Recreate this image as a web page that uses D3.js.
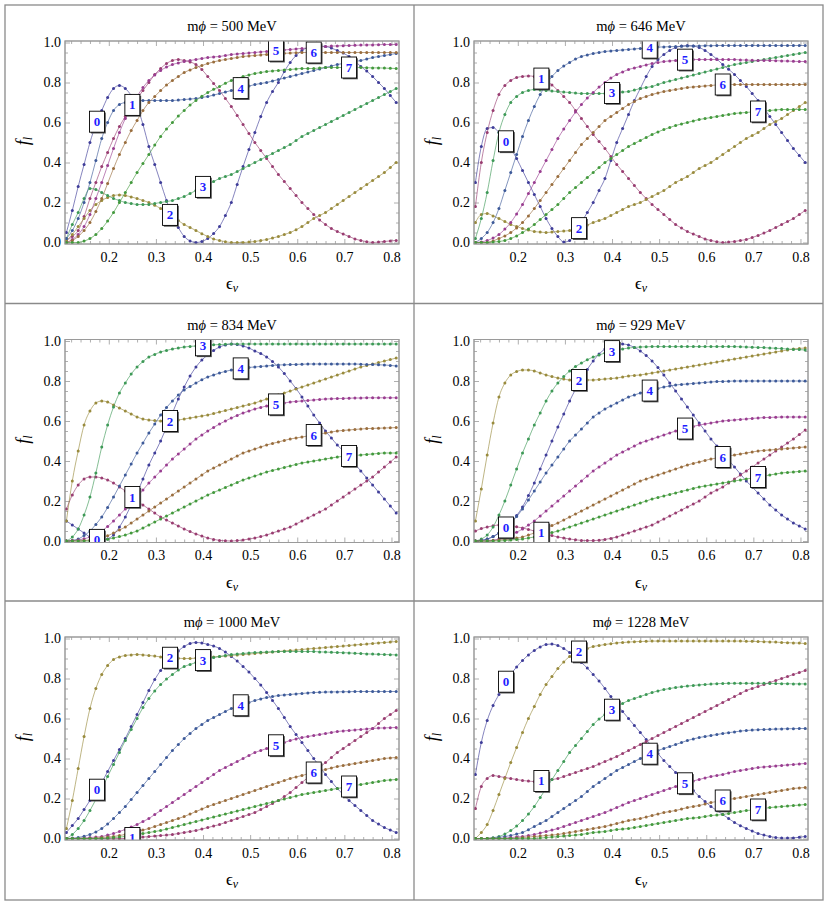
<!DOCTYPE html>
<html>
<head>
<meta charset="utf-8">
<script src="https://cdn.jsdelivr.net/npm/d3@7"></script>
<style>
    body { margin: 0; background: #fff; }
    svg { display: block; }
    svg text { font-family: "Liberation Serif", "Times New Roman", serif; }
</style>
</head>
<body>
<svg id="chart" width="830" height="906"></svg>
<script>
// sample points in eps_nu
const epsGrid = [0.11, 0.1225, 0.135, 0.1475, 0.16, 0.1725, 0.185, 0.1975, 0.21, 0.2225, 0.235, 0.2475, 0.26, 0.2725,
    0.285, 0.2975, 0.31, 0.3225, 0.335, 0.3475, 0.36, 0.3725, 0.385, 0.3975, 0.41, 0.4225, 0.435, 0.4475, 0.46, 0.4725,
    0.485, 0.4975, 0.51, 0.5225, 0.535, 0.5475, 0.56, 0.5725, 0.585, 0.5975, 0.61, 0.6225, 0.635, 0.6475, 0.66, 0.6725,
    0.685, 0.6975, 0.71, 0.7225, 0.735, 0.7475, 0.76, 0.7725, 0.785, 0.7975, 0.81];

const masses = [500, 646, 834, 929, 1000, 1228];

// f_l for l = 0..7, one array per mass
const f500 = [
    [0.05,0.16,0.28,0.39,0.5,0.59,0.66,0.725,0.77,0.785,0.77,0.735,0.68,0.59,0.48,0.39,0.3,0.21,0.13,0.075,0.03,0.008,0.0,0.005,0.02,0.045,0.08,0.135,0.2,0.29,0.38,0.465,0.55,0.63,0.7,0.755,0.8,0.855,0.9,0.935,0.96,0.975,0.98,0.982,0.98,0.972,0.96,0.947,0.93,0.907,0.88,0.857,0.83,0.8,0.77,0.735,0.70],
    [0.01,0.03,0.06,0.13,0.22,0.3,0.38,0.45,0.52,0.58,0.63,0.68,0.72,0.76,0.8,0.84,0.87,0.895,0.91,0.915,0.91,0.903,0.89,0.865,0.83,0.795,0.76,0.72,0.68,0.635,0.59,0.545,0.5,0.46,0.42,0.38,0.34,0.305,0.27,0.235,0.2,0.17,0.14,0.113,0.09,0.07,0.055,0.042,0.03,0.018,0.01,0.004,0.0,0.002,0.005,0.008,0.01],
    [0.01,0.04,0.08,0.12,0.16,0.19,0.21,0.225,0.235,0.238,0.235,0.228,0.22,0.21,0.2,0.186,0.17,0.15,0.13,0.11,0.09,0.075,0.06,0.044,0.03,0.018,0.01,0.004,0.0,0.0,0.0,0.002,0.005,0.01,0.015,0.022,0.03,0.04,0.05,0.064,0.08,0.1,0.12,0.135,0.15,0.17,0.19,0.21,0.23,0.25,0.27,0.29,0.31,0.33,0.35,0.375,0.4],
    [0.02,0.09,0.15,0.22,0.27,0.265,0.25,0.235,0.22,0.21,0.2,0.195,0.19,0.19,0.19,0.195,0.2,0.205,0.21,0.22,0.23,0.245,0.26,0.275,0.29,0.305,0.32,0.33,0.34,0.355,0.37,0.385,0.4,0.415,0.43,0.445,0.46,0.475,0.49,0.51,0.53,0.545,0.56,0.575,0.59,0.605,0.62,0.635,0.65,0.665,0.68,0.695,0.71,0.725,0.74,0.755,0.77],
    [0.02,0.06,0.12,0.2,0.3,0.41,0.52,0.6,0.66,0.69,0.7,0.707,0.71,0.71,0.71,0.71,0.71,0.71,0.71,0.712,0.715,0.717,0.72,0.725,0.73,0.737,0.745,0.752,0.76,0.767,0.775,0.782,0.79,0.795,0.8,0.807,0.815,0.822,0.83,0.837,0.845,0.852,0.86,0.867,0.875,0.882,0.89,0.895,0.9,0.905,0.91,0.917,0.925,0.93,0.935,0.94,0.945],
    [0.0,0.015,0.04,0.08,0.14,0.22,0.3,0.385,0.47,0.55,0.62,0.68,0.73,0.775,0.81,0.838,0.86,0.877,0.89,0.898,0.905,0.91,0.915,0.92,0.925,0.928,0.93,0.935,0.94,0.943,0.945,0.948,0.95,0.953,0.955,0.958,0.96,0.963,0.965,0.968,0.97,0.973,0.975,0.978,0.98,0.982,0.983,0.984,0.985,0.986,0.987,0.988,0.988,0.989,0.99,0.99,0.99],
    [0.0,0.01,0.03,0.06,0.1,0.155,0.22,0.295,0.37,0.44,0.5,0.56,0.61,0.66,0.7,0.73,0.76,0.787,0.81,0.83,0.85,0.863,0.875,0.885,0.895,0.903,0.91,0.915,0.92,0.925,0.93,0.933,0.935,0.938,0.94,0.943,0.945,0.946,0.947,0.949,0.95,0.95,0.95,0.95,0.95,0.95,0.95,0.95,0.95,0.95,0.95,0.95,0.95,0.95,0.95,0.95,0.95],
    [0.0,0.0,0.0,0.007,0.02,0.04,0.07,0.107,0.15,0.2,0.25,0.3,0.35,0.395,0.44,0.487,0.53,0.567,0.6,0.632,0.66,0.687,0.71,0.731,0.75,0.766,0.78,0.796,0.81,0.82,0.83,0.838,0.845,0.85,0.855,0.858,0.86,0.863,0.865,0.868,0.87,0.87,0.87,0.873,0.875,0.875,0.875,0.875,0.875,0.875,0.875,0.874,0.873,0.873,0.872,0.871,0.87]
];
const f646 = [
    [0.3,0.48,0.57,0.575,0.55,0.515,0.47,0.42,0.36,0.3,0.24,0.18,0.12,0.07,0.03,0.002,0.01,0.045,0.1,0.15,0.2,0.26,0.32,0.41,0.5,0.57,0.64,0.71,0.77,0.83,0.88,0.915,0.94,0.96,0.975,0.982,0.985,0.982,0.975,0.96,0.94,0.917,0.89,0.866,0.84,0.81,0.78,0.745,0.71,0.67,0.63,0.59,0.55,0.51,0.47,0.435,0.4],
    [0.18,0.4,0.55,0.66,0.74,0.785,0.81,0.825,0.83,0.833,0.83,0.822,0.81,0.788,0.76,0.73,0.7,0.66,0.62,0.58,0.54,0.505,0.47,0.43,0.39,0.355,0.32,0.285,0.25,0.22,0.19,0.165,0.14,0.115,0.09,0.072,0.055,0.042,0.03,0.018,0.01,0.004,0.0,0.002,0.005,0.01,0.015,0.025,0.035,0.047,0.06,0.075,0.09,0.105,0.12,0.14,0.16],
    [0.1,0.14,0.145,0.133,0.12,0.105,0.09,0.08,0.07,0.062,0.055,0.052,0.05,0.052,0.055,0.057,0.06,0.067,0.075,0.087,0.1,0.11,0.12,0.135,0.15,0.165,0.18,0.19,0.2,0.215,0.23,0.245,0.26,0.28,0.3,0.315,0.33,0.35,0.37,0.385,0.4,0.42,0.44,0.46,0.48,0.5,0.52,0.535,0.55,0.57,0.59,0.605,0.62,0.64,0.66,0.68,0.7],
    [0.02,0.12,0.25,0.41,0.55,0.64,0.7,0.73,0.75,0.76,0.765,0.763,0.76,0.757,0.755,0.752,0.75,0.747,0.745,0.745,0.745,0.745,0.745,0.747,0.75,0.752,0.755,0.762,0.77,0.775,0.78,0.79,0.8,0.807,0.815,0.822,0.83,0.837,0.845,0.852,0.86,0.867,0.875,0.882,0.89,0.895,0.9,0.905,0.91,0.915,0.92,0.925,0.93,0.935,0.94,0.945,0.95],
    [0.0,0.02,0.05,0.1,0.17,0.26,0.35,0.44,0.53,0.61,0.68,0.74,0.79,0.83,0.86,0.882,0.9,0.917,0.93,0.938,0.945,0.95,0.955,0.958,0.96,0.963,0.965,0.968,0.97,0.973,0.975,0.977,0.978,0.979,0.98,0.981,0.982,0.983,0.983,0.984,0.984,0.985,0.985,0.985,0.985,0.985,0.985,0.985,0.985,0.985,0.985,0.985,0.985,0.985,0.985,0.985,0.985],
    [0.0,0.003,0.01,0.022,0.04,0.067,0.1,0.143,0.19,0.245,0.3,0.355,0.41,0.465,0.52,0.567,0.61,0.652,0.69,0.722,0.75,0.777,0.8,0.822,0.84,0.853,0.865,0.873,0.88,0.888,0.895,0.9,0.905,0.908,0.91,0.913,0.915,0.915,0.915,0.915,0.915,0.915,0.915,0.915,0.915,0.913,0.912,0.911,0.91,0.91,0.91,0.909,0.908,0.907,0.906,0.905,0.905],
    [0.0,0.0,0.0,0.008,0.02,0.033,0.05,0.073,0.1,0.133,0.17,0.21,0.25,0.29,0.33,0.37,0.41,0.45,0.49,0.52,0.55,0.58,0.61,0.63,0.65,0.67,0.69,0.705,0.72,0.73,0.74,0.748,0.755,0.76,0.765,0.77,0.775,0.778,0.78,0.783,0.785,0.788,0.79,0.79,0.79,0.79,0.79,0.79,0.79,0.79,0.79,0.79,0.79,0.79,0.79,0.79,0.79],
    [0.0,0.0,0.0,0.002,0.005,0.01,0.02,0.033,0.05,0.068,0.09,0.115,0.14,0.165,0.19,0.22,0.25,0.275,0.3,0.325,0.35,0.375,0.4,0.42,0.44,0.46,0.48,0.495,0.51,0.525,0.54,0.553,0.565,0.575,0.585,0.593,0.6,0.608,0.615,0.62,0.625,0.63,0.635,0.64,0.645,0.648,0.65,0.653,0.655,0.658,0.66,0.663,0.665,0.665,0.665,0.665,0.665]
];
const f834 = [
    [0.1,0.08,0.06,0.04,0.02,0.007,0.0,0.01,0.03,0.07,0.12,0.18,0.24,0.31,0.38,0.44,0.5,0.57,0.64,0.71,0.77,0.825,0.87,0.905,0.93,0.953,0.97,0.98,0.985,0.982,0.975,0.965,0.95,0.937,0.92,0.897,0.87,0.837,0.8,0.762,0.72,0.675,0.63,0.59,0.55,0.515,0.48,0.45,0.42,0.385,0.35,0.315,0.28,0.245,0.21,0.175,0.14],
    [0.16,0.23,0.28,0.31,0.32,0.32,0.315,0.305,0.29,0.27,0.25,0.225,0.2,0.18,0.16,0.14,0.12,0.105,0.09,0.075,0.06,0.047,0.035,0.025,0.015,0.008,0.003,0.001,0.0,0.002,0.005,0.01,0.015,0.022,0.03,0.04,0.05,0.06,0.07,0.085,0.1,0.115,0.13,0.145,0.16,0.18,0.2,0.22,0.24,0.26,0.28,0.3,0.32,0.345,0.37,0.395,0.42],
    [0.1,0.3,0.45,0.58,0.65,0.69,0.7,0.695,0.68,0.665,0.65,0.635,0.62,0.61,0.605,0.602,0.6,0.6,0.6,0.605,0.61,0.615,0.62,0.625,0.63,0.637,0.645,0.652,0.66,0.667,0.675,0.682,0.69,0.7,0.71,0.72,0.73,0.74,0.75,0.76,0.77,0.78,0.79,0.8,0.81,0.82,0.83,0.84,0.85,0.86,0.87,0.877,0.885,0.892,0.9,0.907,0.915],
    [0.0,0.02,0.06,0.13,0.22,0.34,0.47,0.58,0.67,0.74,0.79,0.835,0.87,0.897,0.92,0.933,0.945,0.953,0.96,0.965,0.97,0.973,0.975,0.978,0.98,0.981,0.982,0.984,0.985,0.985,0.985,0.985,0.985,0.985,0.985,0.985,0.985,0.985,0.985,0.985,0.985,0.985,0.985,0.985,0.985,0.985,0.985,0.985,0.985,0.985,0.985,0.985,0.985,0.985,0.985,0.985,0.985],
    [0.0,0.003,0.01,0.027,0.05,0.083,0.12,0.168,0.22,0.275,0.33,0.385,0.44,0.49,0.54,0.585,0.63,0.667,0.7,0.73,0.755,0.773,0.79,0.806,0.82,0.83,0.84,0.848,0.855,0.86,0.865,0.868,0.87,0.873,0.875,0.878,0.88,0.881,0.882,0.883,0.884,0.885,0.885,0.885,0.885,0.885,0.885,0.885,0.885,0.885,0.884,0.883,0.882,0.881,0.88,0.878,0.875],
    [0.0,0.002,0.005,0.011,0.02,0.033,0.05,0.073,0.1,0.13,0.16,0.19,0.22,0.255,0.29,0.32,0.35,0.38,0.41,0.435,0.46,0.485,0.51,0.53,0.55,0.568,0.585,0.6,0.615,0.628,0.64,0.65,0.66,0.668,0.675,0.68,0.685,0.69,0.695,0.698,0.7,0.703,0.705,0.708,0.71,0.711,0.712,0.713,0.714,0.715,0.715,0.716,0.716,0.716,0.716,0.716,0.716],
    [0.0,0.0,0.0,0.002,0.005,0.009,0.015,0.026,0.04,0.055,0.07,0.09,0.11,0.13,0.15,0.17,0.19,0.21,0.23,0.25,0.27,0.29,0.31,0.33,0.35,0.365,0.38,0.395,0.41,0.425,0.44,0.45,0.46,0.47,0.48,0.488,0.495,0.503,0.51,0.515,0.52,0.525,0.53,0.535,0.54,0.545,0.55,0.553,0.555,0.558,0.56,0.562,0.563,0.564,0.565,0.566,0.567],
    [0.0,0.0,0.0,0.0,0.0,0.002,0.005,0.009,0.015,0.022,0.03,0.04,0.05,0.065,0.08,0.095,0.11,0.125,0.14,0.155,0.17,0.185,0.2,0.215,0.23,0.243,0.255,0.268,0.28,0.293,0.305,0.315,0.325,0.335,0.345,0.353,0.36,0.368,0.375,0.383,0.39,0.395,0.4,0.405,0.41,0.415,0.42,0.423,0.425,0.428,0.43,0.433,0.435,0.438,0.44,0.44,0.44]
];
const f929 = [
    [0.0,0.003,0.01,0.022,0.04,0.062,0.09,0.127,0.17,0.227,0.29,0.36,0.43,0.5,0.57,0.635,0.7,0.758,0.81,0.858,0.9,0.935,0.96,0.978,0.985,0.985,0.98,0.968,0.95,0.927,0.9,0.867,0.83,0.79,0.75,0.71,0.67,0.63,0.59,0.55,0.51,0.475,0.44,0.405,0.37,0.335,0.3,0.27,0.24,0.21,0.18,0.155,0.13,0.11,0.09,0.075,0.06],
    [0.05,0.062,0.07,0.076,0.08,0.079,0.075,0.071,0.065,0.058,0.05,0.043,0.035,0.027,0.02,0.015,0.01,0.006,0.003,0.002,0.002,0.004,0.008,0.013,0.02,0.03,0.04,0.05,0.06,0.07,0.08,0.095,0.11,0.125,0.14,0.155,0.17,0.185,0.2,0.22,0.24,0.255,0.27,0.29,0.31,0.33,0.35,0.37,0.39,0.41,0.43,0.45,0.47,0.49,0.51,0.532,0.555],
    [0.1,0.26,0.43,0.59,0.72,0.79,0.83,0.847,0.855,0.855,0.85,0.84,0.83,0.822,0.815,0.81,0.805,0.805,0.805,0.805,0.805,0.807,0.81,0.812,0.815,0.82,0.825,0.828,0.83,0.835,0.84,0.845,0.85,0.855,0.86,0.865,0.87,0.875,0.88,0.885,0.89,0.895,0.9,0.905,0.91,0.915,0.92,0.925,0.93,0.935,0.94,0.945,0.95,0.955,0.96,0.963,0.965],
    [0.0,0.01,0.03,0.07,0.13,0.2,0.28,0.36,0.44,0.51,0.58,0.64,0.7,0.75,0.79,0.822,0.85,0.872,0.89,0.906,0.92,0.93,0.94,0.948,0.955,0.96,0.965,0.968,0.97,0.971,0.972,0.972,0.972,0.972,0.972,0.972,0.972,0.972,0.972,0.972,0.972,0.972,0.972,0.972,0.972,0.971,0.97,0.969,0.968,0.967,0.965,0.964,0.962,0.96,0.958,0.957,0.955],
    [0.0,0.003,0.01,0.022,0.04,0.062,0.09,0.122,0.16,0.205,0.25,0.295,0.34,0.38,0.42,0.46,0.5,0.53,0.56,0.59,0.62,0.64,0.66,0.675,0.69,0.705,0.72,0.73,0.74,0.748,0.755,0.763,0.77,0.775,0.78,0.783,0.785,0.788,0.79,0.793,0.795,0.797,0.798,0.799,0.8,0.8,0.8,0.8,0.8,0.8,0.8,0.8,0.8,0.8,0.8,0.8,0.8],
    [0.0,0.0,0.0,0.004,0.01,0.019,0.03,0.044,0.06,0.08,0.1,0.125,0.15,0.175,0.2,0.225,0.25,0.275,0.3,0.325,0.35,0.37,0.39,0.41,0.43,0.445,0.46,0.475,0.49,0.5,0.51,0.52,0.53,0.54,0.55,0.558,0.565,0.573,0.58,0.585,0.59,0.595,0.6,0.603,0.605,0.608,0.61,0.613,0.615,0.617,0.618,0.619,0.62,0.62,0.62,0.62,0.62],
    [0.0,0.0,0.0,0.002,0.005,0.007,0.01,0.015,0.02,0.03,0.04,0.052,0.065,0.077,0.09,0.105,0.12,0.135,0.15,0.165,0.18,0.195,0.21,0.225,0.24,0.255,0.27,0.285,0.3,0.31,0.32,0.33,0.34,0.35,0.36,0.37,0.38,0.388,0.395,0.403,0.41,0.415,0.42,0.425,0.43,0.435,0.44,0.445,0.45,0.453,0.455,0.458,0.46,0.463,0.465,0.468,0.47],
    [0.0,0.0,0.0,0.0,0.0,0.002,0.005,0.007,0.01,0.015,0.02,0.027,0.035,0.042,0.05,0.06,0.07,0.08,0.09,0.1,0.11,0.12,0.13,0.14,0.15,0.16,0.17,0.18,0.19,0.2,0.21,0.218,0.225,0.233,0.24,0.248,0.255,0.263,0.27,0.275,0.28,0.285,0.29,0.295,0.3,0.305,0.31,0.315,0.32,0.325,0.33,0.335,0.34,0.343,0.345,0.348,0.35]
];
const f1000 = [
    [0.03,0.065,0.1,0.145,0.19,0.235,0.28,0.335,0.39,0.445,0.5,0.56,0.62,0.68,0.74,0.795,0.84,0.878,0.91,0.938,0.96,0.975,0.98,0.978,0.97,0.962,0.95,0.932,0.91,0.887,0.86,0.832,0.8,0.767,0.73,0.69,0.65,0.605,0.56,0.52,0.48,0.44,0.4,0.36,0.32,0.285,0.25,0.22,0.19,0.165,0.14,0.115,0.09,0.072,0.055,0.042,0.03],
    [0.0,0.0,0.0,0.0,0.0,0.0,0.0,0.0,0.0,0.0,0.0,0.002,0.005,0.007,0.01,0.012,0.015,0.017,0.02,0.025,0.03,0.035,0.04,0.047,0.055,0.062,0.07,0.08,0.09,0.1,0.11,0.12,0.13,0.145,0.16,0.175,0.19,0.21,0.23,0.255,0.28,0.305,0.33,0.355,0.38,0.405,0.43,0.45,0.47,0.49,0.51,0.53,0.55,0.575,0.6,0.62,0.64],
    [0.05,0.19,0.35,0.51,0.65,0.75,0.82,0.865,0.895,0.908,0.915,0.918,0.92,0.918,0.915,0.912,0.908,0.905,0.903,0.901,0.9,0.9,0.902,0.904,0.906,0.908,0.91,0.912,0.915,0.918,0.92,0.922,0.925,0.928,0.93,0.932,0.935,0.938,0.94,0.942,0.945,0.948,0.95,0.952,0.955,0.958,0.96,0.962,0.965,0.968,0.97,0.972,0.975,0.978,0.98,0.982,0.985],
    [0.0,0.02,0.05,0.09,0.14,0.195,0.25,0.31,0.37,0.43,0.49,0.545,0.6,0.655,0.7,0.738,0.77,0.797,0.82,0.842,0.86,0.87,0.88,0.89,0.9,0.905,0.91,0.915,0.92,0.922,0.925,0.928,0.93,0.931,0.932,0.934,0.935,0.935,0.935,0.935,0.935,0.935,0.935,0.933,0.932,0.931,0.93,0.929,0.928,0.926,0.925,0.923,0.922,0.921,0.92,0.919,0.918],
    [0.0,0.002,0.005,0.011,0.02,0.033,0.05,0.073,0.1,0.13,0.16,0.195,0.23,0.265,0.3,0.335,0.37,0.405,0.44,0.47,0.5,0.525,0.55,0.57,0.59,0.605,0.62,0.635,0.65,0.66,0.67,0.68,0.69,0.698,0.705,0.71,0.715,0.718,0.72,0.723,0.725,0.728,0.73,0.731,0.732,0.733,0.733,0.734,0.734,0.735,0.735,0.735,0.735,0.735,0.735,0.735,0.735],
    [0.0,0.0,0.0,0.002,0.005,0.007,0.01,0.017,0.025,0.035,0.045,0.057,0.07,0.085,0.1,0.12,0.14,0.16,0.18,0.2,0.22,0.24,0.26,0.28,0.3,0.32,0.34,0.355,0.37,0.385,0.4,0.415,0.43,0.44,0.45,0.46,0.47,0.48,0.49,0.498,0.505,0.51,0.515,0.52,0.525,0.53,0.535,0.538,0.54,0.543,0.545,0.548,0.55,0.552,0.553,0.554,0.555],
    [0.0,0.0,0.0,0.0,0.0,0.002,0.005,0.007,0.01,0.015,0.02,0.027,0.035,0.042,0.05,0.06,0.07,0.08,0.09,0.1,0.11,0.122,0.135,0.147,0.16,0.17,0.18,0.19,0.2,0.21,0.22,0.23,0.24,0.25,0.26,0.27,0.28,0.29,0.3,0.308,0.315,0.323,0.33,0.338,0.345,0.353,0.36,0.365,0.37,0.375,0.38,0.385,0.39,0.395,0.4,0.403,0.405],
    [0.0,0.0,0.0,0.0,0.0,0.0,0.0,0.002,0.005,0.007,0.01,0.015,0.02,0.025,0.03,0.035,0.04,0.047,0.055,0.062,0.07,0.077,0.085,0.092,0.1,0.107,0.115,0.122,0.13,0.137,0.145,0.152,0.16,0.167,0.175,0.182,0.19,0.197,0.205,0.212,0.22,0.225,0.23,0.235,0.24,0.245,0.25,0.255,0.26,0.265,0.27,0.275,0.28,0.285,0.29,0.293,0.295]
];
const f1228 = [
    [0.32,0.48,0.59,0.665,0.72,0.775,0.82,0.858,0.89,0.918,0.94,0.958,0.97,0.972,0.965,0.95,0.93,0.907,0.88,0.852,0.82,0.787,0.75,0.71,0.67,0.635,0.6,0.565,0.53,0.495,0.46,0.425,0.39,0.36,0.33,0.3,0.27,0.24,0.21,0.185,0.16,0.14,0.12,0.1,0.08,0.064,0.05,0.037,0.025,0.017,0.01,0.005,0.002,0.002,0.003,0.006,0.01],
    [0.15,0.26,0.3,0.315,0.31,0.305,0.3,0.295,0.29,0.287,0.285,0.287,0.29,0.295,0.3,0.31,0.32,0.33,0.34,0.35,0.36,0.372,0.385,0.397,0.41,0.425,0.44,0.455,0.47,0.485,0.5,0.515,0.53,0.545,0.56,0.575,0.59,0.605,0.62,0.635,0.65,0.665,0.68,0.695,0.71,0.725,0.74,0.75,0.76,0.77,0.78,0.79,0.8,0.81,0.82,0.83,0.84],
    [0.0,0.03,0.07,0.14,0.22,0.3,0.38,0.455,0.53,0.6,0.66,0.72,0.77,0.81,0.85,0.883,0.91,0.927,0.94,0.95,0.96,0.965,0.97,0.974,0.978,0.98,0.982,0.984,0.985,0.986,0.987,0.987,0.987,0.987,0.987,0.987,0.987,0.987,0.987,0.987,0.987,0.987,0.987,0.987,0.987,0.987,0.986,0.986,0.985,0.984,0.983,0.982,0.98,0.979,0.978,0.977,0.975],
    [0.0,0.0,0.0,0.004,0.01,0.022,0.04,0.062,0.09,0.122,0.16,0.205,0.25,0.295,0.34,0.385,0.43,0.465,0.5,0.535,0.57,0.597,0.62,0.64,0.66,0.675,0.69,0.7,0.71,0.72,0.73,0.738,0.745,0.75,0.755,0.759,0.762,0.765,0.768,0.77,0.772,0.774,0.775,0.776,0.776,0.776,0.776,0.776,0.776,0.776,0.775,0.775,0.774,0.774,0.773,0.773,0.773],
    [0.0,0.0,0.0,0.002,0.005,0.01,0.015,0.022,0.03,0.044,0.06,0.075,0.09,0.11,0.13,0.15,0.17,0.19,0.21,0.235,0.26,0.28,0.3,0.32,0.34,0.355,0.37,0.385,0.4,0.415,0.43,0.44,0.45,0.46,0.47,0.48,0.49,0.498,0.505,0.51,0.515,0.52,0.525,0.529,0.533,0.537,0.54,0.542,0.544,0.545,0.546,0.547,0.548,0.549,0.549,0.55,0.55],
    [0.0,0.0,0.0,0.0,0.0,0.002,0.005,0.007,0.01,0.015,0.02,0.027,0.035,0.042,0.05,0.06,0.07,0.08,0.09,0.1,0.11,0.12,0.13,0.142,0.155,0.167,0.18,0.19,0.2,0.21,0.22,0.23,0.24,0.25,0.26,0.27,0.28,0.288,0.295,0.303,0.31,0.315,0.32,0.328,0.335,0.34,0.345,0.35,0.355,0.358,0.36,0.363,0.365,0.368,0.37,0.373,0.375],
    [0.0,0.0,0.0,0.0,0.0,0.0,0.0,0.002,0.005,0.007,0.01,0.012,0.015,0.017,0.02,0.025,0.03,0.035,0.04,0.045,0.05,0.055,0.06,0.067,0.075,0.082,0.09,0.095,0.1,0.107,0.115,0.122,0.13,0.135,0.14,0.147,0.155,0.16,0.165,0.172,0.18,0.185,0.19,0.195,0.2,0.205,0.21,0.215,0.22,0.225,0.23,0.235,0.24,0.245,0.25,0.253,0.255],
    [0.0,0.0,0.0,0.0,0.0,0.0,0.0,0.0,0.0,0.0,0.0,0.002,0.005,0.007,0.01,0.012,0.015,0.017,0.02,0.025,0.03,0.032,0.035,0.04,0.045,0.047,0.05,0.055,0.06,0.065,0.07,0.075,0.08,0.085,0.09,0.095,0.1,0.102,0.105,0.11,0.115,0.117,0.12,0.125,0.13,0.135,0.14,0.142,0.145,0.15,0.155,0.157,0.16,0.162,0.165,0.167,0.17]
];
const panelData = [f500, f646, f834, f929, f1000, f1228];

// where the l-labels sit along each curve
const labelEps = [0.175, 0.25, 0.33, 0.40, 0.48, 0.555, 0.635, 0.71];
const xMajor = [0.2, 0.3, 0.4, 0.5, 0.6, 0.7, 0.8];
const yMajor = [0, 0.2, 0.4, 0.6, 0.8, 1.0];

const colors = ["#3f3d99", "#993d71", "#998b3d", "#3d9956", "#3d5a99", "#993d90", "#996d3d", "#43993d"];

(function () {
    const svg = d3.select("#chart");
    const cellX = [5, 414];
    const cellY = [5, 303.5, 601];
    const gridColor = "#8a8a8a";

    // cell grid
    svg.append("rect")
        .attr("x", 5).attr("y", 5).attr("width", 818).attr("height", 895)
        .attr("fill", "none").attr("stroke", gridColor).attr("stroke-width", 1.3);
    svg.append("line").attr("x1", 414).attr("x2", 414).attr("y1", 5).attr("y2", 900)
        .attr("stroke", gridColor).attr("stroke-width", 1.3);
    [303.5, 601].forEach(y => svg.append("line").attr("x1", 5).attr("x2", 823).attr("y1", y).attr("y2", y)
        .attr("stroke", gridColor).attr("stroke-width", 1.3));

    const fmt = d3.format(".1f");
    const xMinor = d3.range(0.12, 0.8101, 0.02).filter(v => !xMajor.some(m => Math.abs(m - v) < 1e-6));
    const yMinor = d3.range(0.05, 1.0, 0.05).filter(v => !yMajor.some(m => Math.abs(m - v) < 1e-6));

    panelData.forEach(function (series, i) {
        const cx = cellX[i % 2];
        const cy = cellY[Math.floor(i / 2)];
        const left = cx + 60, right = cx + 394, top = cy + 37.5, bottom = cy + 237.5;

        const x = d3.scaleLinear().domain([0.107, 0.816]).range([left, right]);
        const y = d3.scaleLinear().domain([0, 1]).range([bottom, top]);

        const g = svg.append("g");

        const clipId = "clip" + i;
        g.append("clipPath").attr("id", clipId)
            .append("rect").attr("x", left).attr("y", top - 1.5).attr("width", right - left).attr("height", bottom - top + 3);

        // frame ticks, all four sides
        const tickColor = "#9a9a9a";
        g.append("g").attr("transform", `translate(0,${bottom + 1.5})`)
            .call(d3.axisBottom(x).tickValues(xMajor).tickSize(-5).tickPadding(8).tickFormat(fmt));
        g.append("g").attr("transform", `translate(${left},0)`)
            .call(d3.axisLeft(y).tickValues(yMajor).tickSize(-5).tickPadding(4).tickFormat(fmt));
        g.append("g").attr("transform", `translate(0,${bottom + 1.5})`)
            .call(d3.axisBottom(x).tickValues(xMinor).tickSize(-3).tickFormat(""));
        g.append("g").attr("transform", `translate(${left},0)`)
            .call(d3.axisLeft(y).tickValues(yMinor).tickSize(-3).tickFormat(""));
        g.append("g").attr("transform", `translate(0,${top - 1.5})`)
            .call(d3.axisTop(x).tickValues(xMajor).tickSize(-5).tickFormat(""));
        g.append("g").attr("transform", `translate(0,${top - 1.5})`)
            .call(d3.axisTop(x).tickValues(xMinor).tickSize(-3).tickFormat(""));
        g.append("g").attr("transform", `translate(${right},0)`)
            .call(d3.axisRight(y).tickValues(yMajor).tickSize(-5).tickFormat(""));
        g.append("g").attr("transform", `translate(${right},0)`)
            .call(d3.axisRight(y).tickValues(yMinor).tickSize(-3).tickFormat(""));

        g.selectAll(".domain").remove();
        g.selectAll(".tick line").attr("stroke", tickColor).attr("stroke-width", 0.8);
        g.selectAll(".tick text").attr("fill", "#000")
            .style("font-size", "14px")
            .style("font-family", "'Liberation Serif', 'Times New Roman', serif");

        g.append("rect")
            .attr("x", left).attr("y", top - 1.5).attr("width", right - left).attr("height", bottom - top + 3)
            .attr("fill", "none").attr("stroke", tickColor).attr("stroke-width", 1);

        // curves with their sample dots
        const plot = g.append("g").attr("clip-path", `url(#${clipId})`);
        const line = d3.line()
            .x((d, k) => x(epsGrid[k]))
            .y(d => y(d))
            .curve(d3.curveMonotoneX);

        series.forEach(function (vals, l) {
            plot.append("path")
                .attr("d", line(vals))
                .attr("fill", "none")
                .attr("stroke", colors[l])
                .attr("stroke-width", 0.8)
                .attr("stroke-opacity", 0.8);
            plot.selectAll(null)
                .data(vals)
                .enter()
                .append("circle")
                .attr("cx", (d, k) => x(epsGrid[k]))
                .attr("cy", d => y(d))
                .attr("r", 1.5)
                .attr("fill", colors[l]);
        });

        // l labels sitting on the curves, cut by the frame like the curves
        series.forEach(function (vals, l) {
            const e = labelEps[l];
            const k = d3.bisectRight(epsGrid, e) - 1;
            const t = (e - epsGrid[k]) / (epsGrid[k + 1] - epsGrid[k]);
            const v = vals[k] + t * (vals[k + 1] - vals[k]);
            const lab = plot.append("g").attr("transform", `translate(${x(e)},${y(v)})`);
            lab.append("rect").attr("x", -6.2).attr("y", -9.2).attr("width", 15).attr("height", 21)
                .attr("fill", "#555");
            lab.append("rect").attr("x", -7.5).attr("y", -10.5).attr("width", 15).attr("height", 21)
                .attr("fill", "#fff").attr("stroke", "#000").attr("stroke-width", 0.9);
            lab.append("text").attr("x", 0).attr("y", 4.5)
                .attr("text-anchor", "middle")
                .style("font-size", "13px").style("font-weight", "bold")
                .attr("fill", "#1e1eff")
                .text(l);
        });

        g.append("rect")
            .attr("x", left).attr("y", top - 1.5).attr("width", right - left).attr("height", bottom - top + 3)
            .attr("fill", "none").attr("stroke", tickColor).attr("stroke-width", 1);

        // title and axis names
        const midX = (left + right) / 2;
        const title = g.append("text").attr("x", midX).attr("y", cy + 26)
            .attr("text-anchor", "middle").style("font-size", "14.5px");
        title.append("tspan").text("m");
        title.append("tspan").style("font-style", "italic").text("\u03d5");
        title.append("tspan").text(" = " + masses[i] + " MeV");

        const xl = g.append("text").attr("x", midX).attr("y", cy + 284)
            .attr("text-anchor", "middle").style("font-size", "17px");
        xl.append("tspan").text("\u03f5");
        xl.append("tspan").style("font-size", "12px").attr("dy", 3).style("font-style", "italic").text("\u03bd");

        const yl = g.append("text")
            .attr("transform", `translate(${cx + 24},${cy + 136}) rotate(-90)`)
            .attr("text-anchor", "middle").style("font-size", "18px").style("font-style", "italic");
        yl.append("tspan").text("f");
        yl.append("tspan").style("font-size", "12px").attr("dy", 3).text("l");
    });
})();
</script>
</body>
</html>
